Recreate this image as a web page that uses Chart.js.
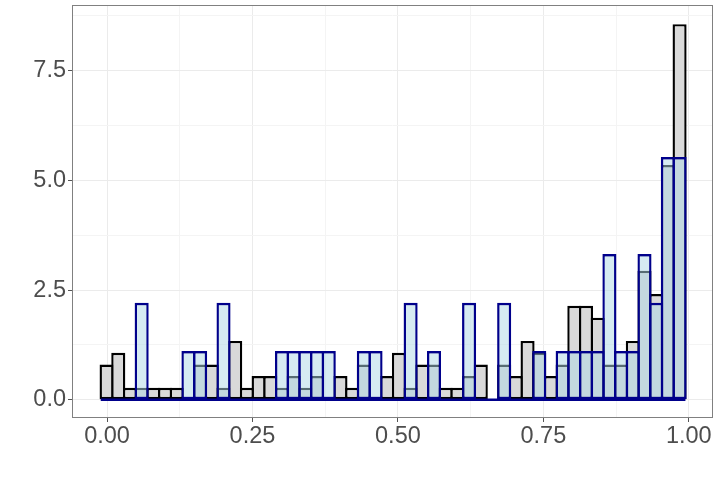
<!DOCTYPE html>
<html>
<head>
<meta charset="utf-8">
<script src="https://cdn.jsdelivr.net/npm/chart.js@4.4.1/dist/chart.umd.min.js"></script>
<style>
  html, body { margin: 0; padding: 0; background: #fff; }
  #wrap { width: 720px; height: 480px; }
</style>
</head>
<body>
<div id="wrap"><canvas id="histChart" width="720" height="480"></canvas></div>
<script>
// *histogram bins: 50 bins, left edge of the first one and bin width
const binStart = -0.0108;
const binWidth = 0.0201;

// *densities, one per bin
const greyDensity = [
  0.80, 1.07, 0.27, 0.27, 0.27, 0.27, 0.27, 0.00, 0.80, 0.80,
  0.27, 1.34, 0.27, 0.54, 0.54, 0.27, 0.54, 0.27, 0.54, 0.00,
  0.54, 0.27, 0.80, 0.00, 0.54, 1.07, 0.27, 0.80, 0.80, 0.27,
  0.27, 0.54, 0.80, 0.00, 0.80, 0.54, 1.34, 1.07, 0.54, 0.80,
  2.14, 2.14, 1.87, 0.80, 0.80, 1.34, 2.94, 2.41, 5.35, 8.56,
];
const blueDensity = [
  0.00, 0.00, 0.00, 2.21, 0.00, 0.00, 0.00, 1.11, 1.11, 0.00,
  2.21, 0.00, 0.00, 0.00, 0.00, 1.11, 1.11, 1.11, 1.11, 1.11,
  0.00, 0.00, 1.11, 1.11, 0.00, 0.00, 2.21, 0.00, 1.11, 0.00,
  0.00, 2.21, 0.00, 0.00, 2.21, 0.00, 0.00, 1.11, 0.00, 1.11,
  1.11, 1.11, 1.11, 3.32, 1.11, 1.11, 3.32, 2.21, 5.53, 5.53,
];

// *ticks
const xMajorTicks = [0, 0.25, 0.5, 0.75, 1];
const xMinorTicks = [0.125, 0.375, 0.625, 0.875];
const yMajorTicks = [0, 2.5, 5, 7.5];
const yMinorTicks = [1.25, 3.75, 6.25, 8.75];

function binPoints(values) {
  return values.map((v, i) => ({ x: binStart + binWidth * (i + 0.5), y: v }));
}

function tickList(major, minor) {
  return major.concat(minor).sort((a, b) => a - b).map((v) => ({ value: v }));
}

const tickFont = { family: "'Liberation Sans', Arial, sans-serif", size: 23.5 };

// panel border like ggplot theme_bw
const panelBorder = {
  id: "panelBorder",
  afterDatasetsDraw(chart) {
    const { ctx, chartArea: a } = chart;
    ctx.save();
    ctx.strokeStyle = "#808080";
    ctx.lineWidth = 1;
    ctx.strokeRect(a.left + 0.5, a.top + 0.5, a.right - a.left - 1, a.bottom - a.top - 1);
    ctx.restore();
  },
};

const ctx = document.getElementById("histChart");

new Chart(ctx, {
  type: "bar",
  data: {
    datasets: [
      {
        type: "line",
        data: [
          { x: binStart, y: 0 },
          { x: binStart + binWidth * greyDensity.length, y: 0 },
        ],
        borderColor: "#00008b",
        borderWidth: 2.4,
        pointRadius: 0,
        order: 0,
      },
      {
        data: binPoints(blueDensity),
        backgroundColor: "rgba(173, 216, 230, 0.5)",
        borderColor: "#00008b",
        borderWidth: 2.4,
        borderSkipped: false,
        barPercentage: 1.205,
        categoryPercentage: 1,
        grouped: false,
        order: 1,
      },
      {
        data: binPoints(greyDensity),
        backgroundColor: "#d9d9d9",
        borderColor: "#000000",
        borderWidth: 2.4,
        borderSkipped: false,
        barPercentage: 1.205,
        categoryPercentage: 1,
        grouped: false,
        order: 2,
      },
    ],
  },
  options: {
    responsive: false,
    animation: false,
    layout: { padding: { top: 5, right: 7, left: 0, bottom: 0 } },
    scales: {
      x: {
        type: "linear",
        offset: false,
        min: -0.0602,
        max: 1.0416,
        afterBuildTicks: (s) => { s.ticks = tickList(xMajorTicks, xMinorTicks); },
        afterFit: (s) => { s.height = 62; s.paddingLeft = 0; s.paddingRight = 0; },
        border: { display: false },
        grid: {
          offset: false,
          color: (c) => (xMajorTicks.includes(c.tick.value) ? "#ebebeb" : "#f4f4f4"),
          lineWidth: 1,
          tickLength: 4,
          tickColor: (c) => (xMajorTicks.includes(c.tick.value) ? "#555555" : "rgba(0,0,0,0)"),
        },
        ticks: {
          autoSkip: false,
          maxRotation: 0,
          padding: 0,
          color: "#4d4d4d",
          font: tickFont,
          callback: (v) => (xMajorTicks.includes(v) ? v.toFixed(2) : ""),
        },
      },
      y: {
        type: "linear",
        min: -0.417,
        max: 8.997,
        afterBuildTicks: (s) => { s.ticks = tickList(yMajorTicks, yMinorTicks); },
        afterFit: (s) => { s.width = 72; s.paddingTop = 0; s.paddingBottom = 0; },
        border: { display: false },
        grid: {
          color: (c) => (yMajorTicks.includes(c.tick.value) ? "#ebebeb" : "#f4f4f4"),
          lineWidth: 1,
          tickLength: 4,
          tickColor: (c) => (yMajorTicks.includes(c.tick.value) ? "#555555" : "rgba(0,0,0,0)"),
        },
        ticks: {
          autoSkip: false,
          padding: 2,
          color: "#4d4d4d",
          font: tickFont,
          callback: (v) => (yMajorTicks.includes(v) ? v.toFixed(1) : ""),
        },
      },
    },
    plugins: {
      legend: { display: false },
      tooltip: { enabled: false },
    },
  },
  plugins: [panelBorder],
});
</script>
</body>
</html>
